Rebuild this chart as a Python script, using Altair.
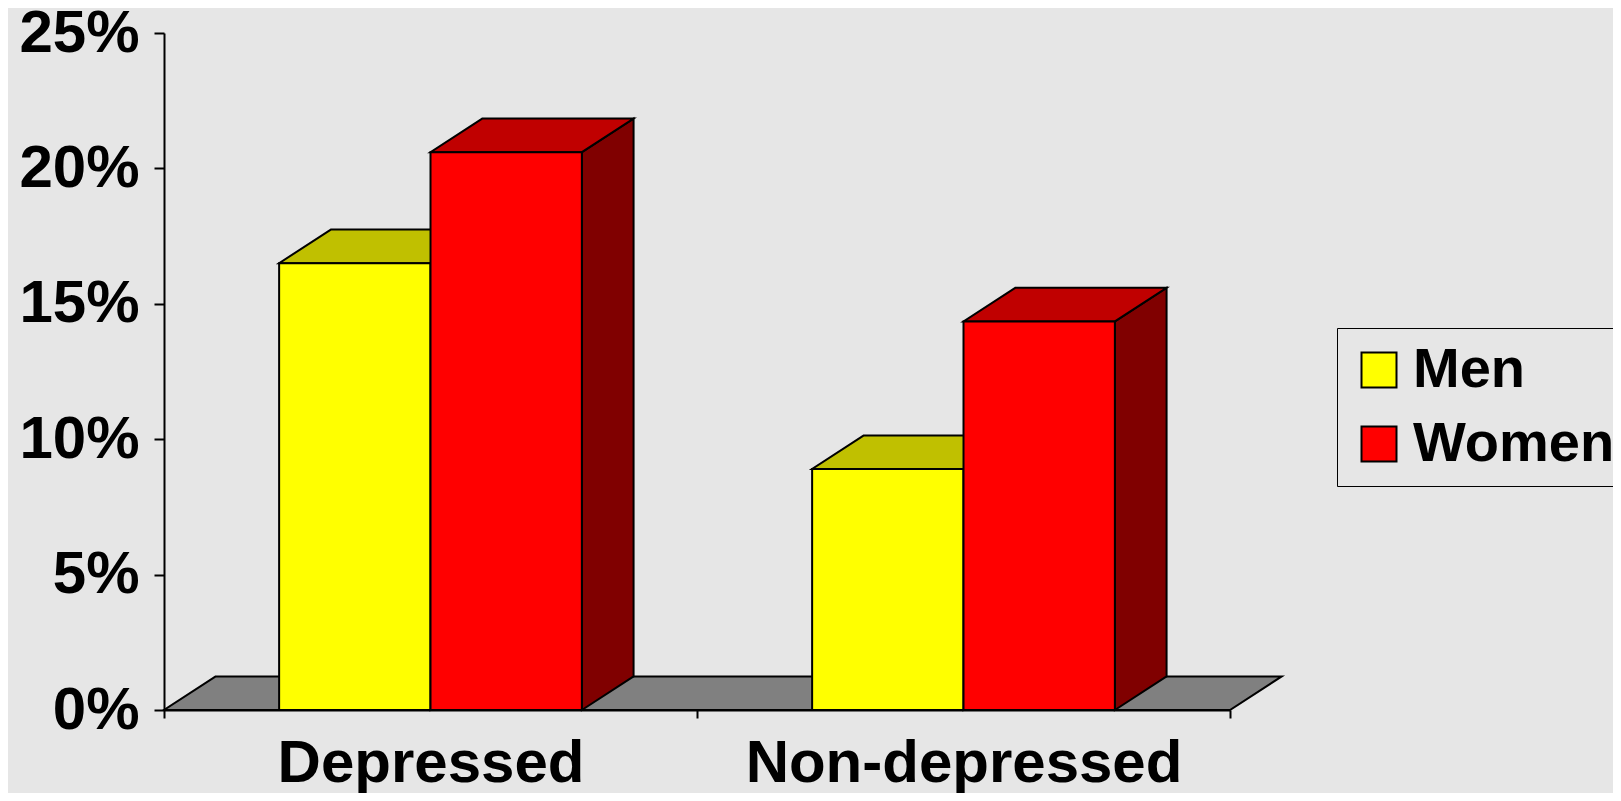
import json
import altair as alt
import pandas as pd

# ---- data ----
CATEGORIES = ["Depressed", "Non-depressed"]
SEXES = ["Men", "Women"]
MEN = [16.5, 8.9]
WOMEN = [20.6, 14.35]
Y_TICKS = [0, 5, 10, 15, 20, 25]

# ---- styles ----
FRONT = ["#ffff00", "#ff0000"]
TOP = ["#c0c000", "#c00000"]
SIDE = ["#808000", "#800000"]
FLOOR = "#808080"
BG = "#e6e6e6"
FONT = "Liberation Sans"

GAP = 0.216   # category fraction before first bar
BAR = 0.284   # bar width as category fraction
DX = 0.097    # depth offset in category units
DY = 1.24     # depth offset in percent units

bars, tops, sides = [], [], []
for ci, cat in enumerate(CATEGORIES):
    for si, (sex, vals) in enumerate(zip(SEXES, [MEN, WOMEN])):
        v = vals[ci]
        x0 = ci + GAP + si * BAR
        x1 = x0 + BAR
        bid = f"{cat}-{sex}"
        bars.append(dict(bar=bid, sex=sex, x0=x0, x1=x1, v=v))
        tops.append(dict(bar=bid, sex=sex, y=v, xa=x0, xb=x1))
        tops.append(dict(bar=bid, sex=sex, y=v + DY, xa=x0 + DX, xb=x1 + DX))
        sides.append(dict(bar=bid, sex=sex, x=x1, ya=0.0, yb=v))
        sides.append(dict(bar=bid, sex=sex, x=x1 + DX, ya=DY, yb=v + DY))

n = len(CATEGORIES)
floor_df = pd.DataFrame([dict(y=0.0, xa=0.0, xb=float(n)),
                         dict(y=DY, xa=DX, xb=n + DX)])
bars_df = pd.DataFrame(bars)
tops_df = pd.DataFrame(tops)
sides_df = pd.DataFrame(sides)

XS = alt.Scale(domain=[0, n], nice=False, zero=False)
YS = alt.Scale(domain=[0, 25], nice=False)

x_axis = alt.Axis(
    values=[i * 0.5 for i in range(2 * n + 1)],
    labelExpr=f"datum.value % 1 === 0 ? '' : {json.dumps(CATEGORIES)}[floor(datum.value)]",
    tickOpacity={"condition": {"test": "datum.value % 1 === 0", "value": 1}, "value": 0},
    tickSize=8, tickWidth=2, tickColor="black",
    domainColor="black", domainWidth=2,
    labelPadding=63, labelBaseline="alphabetic", labelLimit=1000,
    labelFontSize=60, labelFont=FONT, labelFontWeight="bold", labelColor="black",
    labelFlush=False, labelOverlap=False, labelBound=False,
    grid=False, title=None, zindex=1,
)
y_axis = alt.Axis(
    values=Y_TICKS, labelExpr="datum.value + '%'",
    tickSize=10, tickWidth=2, tickColor="black",
    domainColor="black", domainWidth=2,
    labelPadding=15, labelFontSize=60, labelFont=FONT, labelFontWeight="bold",
    labelColor="black", labelFlush=False, labelOverlap=False, labelLimit=1000,
    grid=False, title=None, zindex=1,
)

floor = alt.Chart(floor_df).mark_area(
    orient="horizontal", color=FLOOR, stroke="black", strokeWidth=2, opacity=1
).encode(
    y=alt.Y("y:Q", scale=YS, axis=y_axis),
    x=alt.X("xa:Q", scale=XS, axis=x_axis, stack=None),
    x2="xb:Q",
)

side = alt.Chart(sides_df).mark_area(
    orient="vertical", stroke="black", strokeWidth=2, opacity=1
).encode(
    x=alt.X("x:Q", scale=XS, axis=x_axis),
    y=alt.Y("ya:Q", scale=YS, axis=y_axis, stack=None),
    y2="yb:Q",
    detail="bar:N",
    color=alt.Color("sex:N", scale=alt.Scale(domain=SEXES, range=SIDE), legend=None),
)

top = alt.Chart(tops_df).mark_area(
    orient="horizontal", stroke="black", strokeWidth=2, opacity=1
).encode(
    y=alt.Y("y:Q", scale=YS, axis=y_axis),
    x=alt.X("xa:Q", scale=XS, axis=x_axis, stack=None),
    x2="xb:Q",
    detail="bar:N",
    color=alt.Color("sex:N", scale=alt.Scale(domain=SEXES, range=TOP), legend=None),
)

front = alt.Chart(bars_df).mark_rect(stroke="black", strokeWidth=2, opacity=1).encode(
    x=alt.X("x0:Q", scale=XS, axis=x_axis),
    x2="x1:Q",
    y=alt.Y("v:Q", scale=YS, axis=y_axis),
    y2=alt.datum(0),
    color=alt.Color(
        "sex:N",
        scale=alt.Scale(domain=SEXES, range=FRONT),
        legend=alt.Legend(
            title=None, orient="none", legendX=1173, legendY=295,
            direction="vertical", symbolType="square", symbolSize=1225,
            symbolStrokeColor="black", symbolStrokeWidth=2, symbolOpacity=1,
            labelFontSize=56, labelFont=FONT, labelFontWeight="bold",
            labelColor="black", labelLimit=400, labelOffset=6,
            strokeColor="black", padding=14, rowPadding=18,
        ),
    ),
)

chart = alt.layer(floor, side, top, front).resolve_scale(
    color="independent"
).properties(
    width=1066, height=677,
    autosize=alt.AutoSizeParams(type="none"),
    padding={"left": 156, "top": 25, "right": 383, "bottom": 83},
    background=BG,
).configure_view(stroke=None)

chart.save("out.html", embed_options={"renderer": "svg", "actions": False})
